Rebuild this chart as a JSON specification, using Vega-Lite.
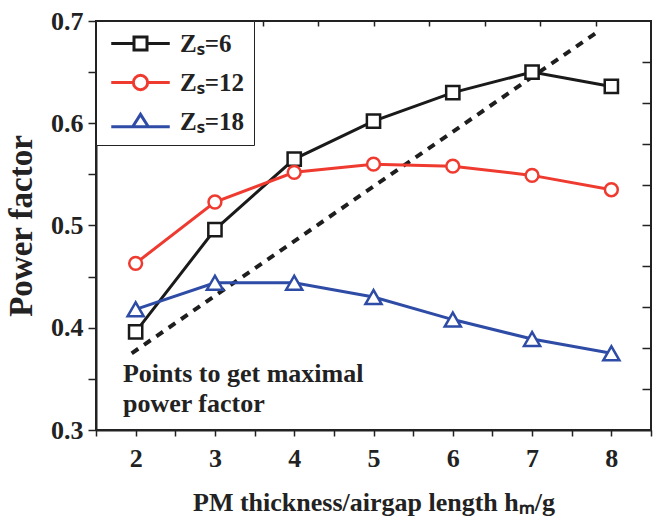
{
  "$schema": "https://vega.github.io/schema/vega-lite/v6.json",
  "width": 555,
  "height": 409,
  "autosize": {"type": "none"},
  "padding": {"left": 96, "top": 21, "right": 3, "bottom": 91},
  "background": "white",
  "config": {
    "font": "Liberation Serif",
    "view": {"stroke": "#222222", "strokeWidth": 2},
    "axis": {
      "grid": false,
      "labelFont": "Liberation Serif",
      "labelFontSize": 26,
      "labelFontWeight": "bold",
      "labelColor": "#222222",
      "titleFont": "Liberation Serif",
      "titleFontSize": 26,
      "titleFontWeight": "bold",
      "titleColor": "#222222",
      "domainColor": "#222222",
      "domainWidth": 2,
      "tickColor": "#222222",
      "tickWidth": 1.5
    }
  },
  "datasets": {
    "curves": [
      {"ratio": 2, "pf": 0.396, "zs": 6},
      {"ratio": 3, "pf": 0.496, "zs": 6},
      {"ratio": 4, "pf": 0.565, "zs": 6},
      {"ratio": 5, "pf": 0.602, "zs": 6},
      {"ratio": 6, "pf": 0.630, "zs": 6},
      {"ratio": 7, "pf": 0.650, "zs": 6},
      {"ratio": 8, "pf": 0.636, "zs": 6},
      {"ratio": 2, "pf": 0.463, "zs": 12},
      {"ratio": 3, "pf": 0.523, "zs": 12},
      {"ratio": 4, "pf": 0.552, "zs": 12},
      {"ratio": 5, "pf": 0.560, "zs": 12},
      {"ratio": 6, "pf": 0.558, "zs": 12},
      {"ratio": 7, "pf": 0.549, "zs": 12},
      {"ratio": 8, "pf": 0.535, "zs": 12},
      {"ratio": 2, "pf": 0.418, "zs": 18},
      {"ratio": 3, "pf": 0.444, "zs": 18},
      {"ratio": 4, "pf": 0.444, "zs": 18},
      {"ratio": 5, "pf": 0.430, "zs": 18},
      {"ratio": 6, "pf": 0.408, "zs": 18},
      {"ratio": 7, "pf": 0.389, "zs": 18},
      {"ratio": 8, "pf": 0.375, "zs": 18}
    ],
    "trend": [
      {"ratio": 1.95, "pf": 0.375},
      {"ratio": 7.8, "pf": 0.688}
    ],
    "note": [
      {"ratio": 1.84, "pf": 0.347, "label": "Points to get maximal\npower factor"}
    ]
  },
  "layer": [
    {
      "data": {"name": "trend"},
      "mark": {"type": "line", "color": "#1e1e1e", "strokeWidth": 4, "strokeDash": [8, 7], "strokeCap": "butt"},
      "encoding": {
        "x": {
          "field": "ratio", "type": "quantitative",
          "scale": {"domain": [1.5, 8.5], "nice": false, "zero": false},
          "axis": {"orient": "top", "title": null, "labels": false, "domain": false,
                   "values": [2.2, 2.9, 3.6, 4.3, 5.0, 5.7, 6.4, 7.1, 7.8], "tickSize": 5, "offset": -5}
        },
        "y": {
          "field": "pf", "type": "quantitative",
          "scale": {"domain": [0.3, 0.7], "nice": false, "zero": false},
          "axis": {"orient": "right", "title": null, "labels": false, "domain": false,
                   "values": [0.34, 0.38, 0.42, 0.46, 0.5, 0.54, 0.58, 0.62, 0.66], "tickSize": 9, "offset": -9}
        }
      }
    },
    {
      "data": {"name": "curves"},
      "encoding": {
        "x": {
          "field": "ratio", "type": "quantitative",
          "scale": {"domain": [1.5, 8.5], "nice": false, "zero": false},
          "axis": {
            "orient": "bottom",
            "title": "PM thickness/airgap length hₘ/g",
            "values": [1.5, 2, 2.5, 3, 3.5, 4, 4.5, 5, 5.5, 6, 6.5, 7, 7.5, 8, 8.5],
            "format": ".0f",
            "labelExpr": "datum.value % 1 == 0 ? datum.label : ''",
            "tickSize": 6,
            "labelPadding": 9,
            "titlePadding": 18
          }
        },
        "y": {
          "field": "pf", "type": "quantitative",
          "scale": {"domain": [0.3, 0.7], "nice": false, "zero": false},
          "axis": {
            "orient": "left",
            "title": "Power factor",
            "titleFontSize": 33,
            "values": [0.3, 0.35, 0.4, 0.45, 0.5, 0.55, 0.6, 0.65, 0.7],
            "format": ".1f",
            "labelExpr": "abs(datum.value * 10 - round(datum.value * 10)) < 0.01 ? datum.label : ''",
            "tickSize": 8,
            "labelPadding": 5,
            "titlePadding": 12
          }
        },
        "color": {
          "field": "zs", "type": "nominal",
          "scale": {"domain": [6, 12, 18], "range": ["#1a1a1a", "#ef3a30", "#2e4ca6"]},
          "legend": {
            "title": null,
            "orient": "top-left",
            "offset": 0,
            "padding": 10,
            "rowPadding": 12,
            "strokeColor": "#222222",
            "fillColor": "white",
            "labelFont": "Liberation Serif",
            "labelFontSize": 25,
            "labelFontWeight": "bold",
            "labelColor": "#222222",
            "labelExpr": "'Zₛ=' + datum.label",
            "symbolSize": 169,
            "symbolOffset": 22,
            "labelOffset": 27,
            "symbolStrokeWidth": 3,
            "encode": {
              "symbols": {
                "update": {
                  "fill": {"value": "white"},
                  "strokeWidth": {"value": 3},
                  "shape": {"signal": "datum.value == 6 ? 'M-4.5,0H-1M1,0H4.5M-1,-1H1V1H-1Z' : datum.value == 12 ? 'M-4.5,0H-1.1M1.1,0H4.5M1.1,0A1.1,1.1,0,1,1,-1.1,0A1.1,1.1,0,1,1,1.1,0Z' : 'M-4.5,0.8H-1.2M1.2,0.8H4.5M0,-1.1L1.2,0.8H-1.2Z'"}
                }
              }
            }
          }
        }
      },
      "layer": [
        {"mark": {"type": "line", "strokeWidth": 3}},
        {
          "transform": [{"filter": "datum.zs == 6"}],
          "mark": {"type": "point", "shape": "square", "size": 175, "filled": false, "fill": "white", "strokeWidth": 2.5, "opacity": 1}
        },
        {
          "transform": [{"filter": "datum.zs == 12"}],
          "mark": {"type": "point", "shape": "circle", "size": 165, "filled": false, "fill": "white", "strokeWidth": 2.5, "opacity": 1}
        },
        {
          "transform": [{"filter": "datum.zs == 18"}],
          "mark": {"type": "point", "shape": "triangle-up", "size": 260, "filled": false, "fill": "white", "strokeWidth": 2.5, "opacity": 1}
        }
      ]
    },
    {
      "data": {"name": "note"},
      "mark": {"type": "text", "align": "left", "baseline": "alphabetic", "lineBreak": "\n",
               "font": "Liberation Serif", "fontSize": 26, "fontWeight": "bold", "color": "#222222", "lineHeight": 30},
      "encoding": {
        "x": {"field": "ratio", "type": "quantitative", "axis": null},
        "y": {"field": "pf", "type": "quantitative", "axis": null},
        "text": {"field": "label"}
      }
    }
  ]
}
